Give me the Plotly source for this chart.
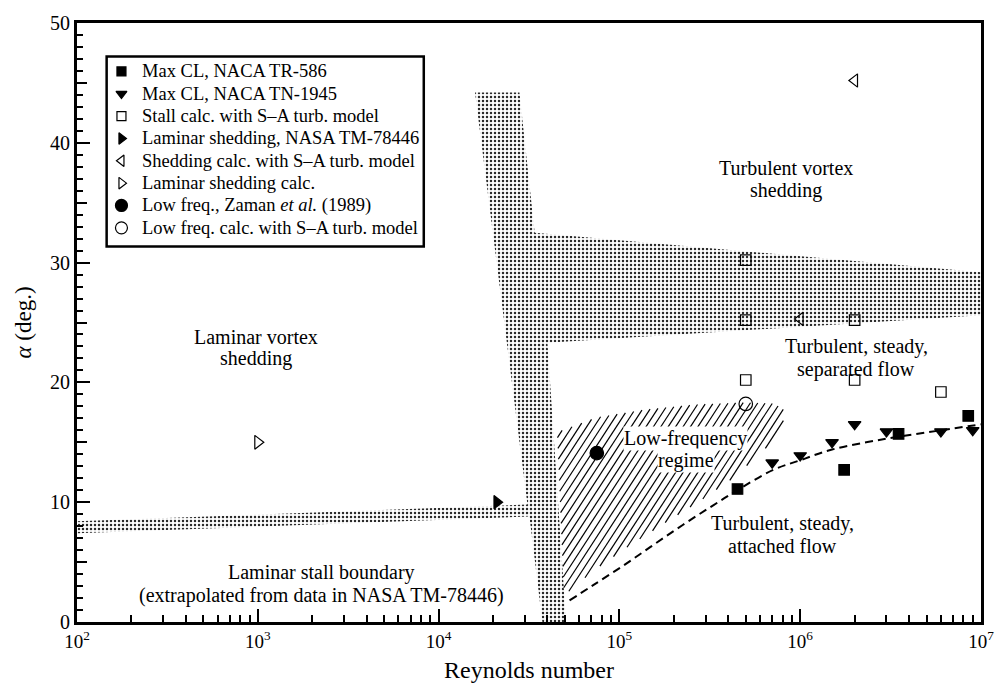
import numpy as np
import plotly.graph_objects as go

# ---------------- data ----------------
# Max CL, NACA TR-586
tr586_re = [4.5e5, 1.75e6, 3.5e6, 8.5e6]
tr586_alpha = [11.1, 12.7, 15.7, 17.2]

# Max CL, NACA TN-1945
tn1945_re = [7.0e5, 1.0e6, 1.5e6, 2.0e6, 3.0e6, 6.0e6, 9.0e6]
tn1945_alpha = [13.3, 13.9, 15.0, 16.5, 15.9, 15.9, 16.0]

# Stall calc. with S-A turbulence model
sa_stall_re = [5e5, 5e5, 5e5, 2e6, 2e6, 6e6]
sa_stall_alpha = [30.2, 25.2, 20.2, 25.2, 20.2, 19.2]

# Laminar shedding, NASA TM-78446
tm78446_re = [2.1e4]
tm78446_alpha = [10.0]

# Shedding calc. with S-A turbulence model
sa_shed_re = [1e6, 2e6]
sa_shed_alpha = [25.3, 45.2]

# Laminar shedding calc.
lam_shed_re = [1e3]
lam_shed_alpha = [15.0]

# Low frequency, Zaman et al. (1989)
zaman_re = [7.5e4]
zaman_alpha = [14.1]

# Low frequency calc. with S-A turbulence model
lowfreq_re = [5e5]
lowfreq_alpha = [18.2]

# Attached-flow boundary (dashed curve)
bound_re = [5.3e4, 7.2e4, 1.05e5, 1.53e5, 2.24e5, 3.27e5, 4.6e5, 7.1e5, 1.0e6, 1.5e6, 3.0e6, 6.0e6, 1.0e7]
bound_alpha = [1.8, 3.1, 4.7, 6.4, 8.1, 9.7, 11.1, 12.7, 13.5, 14.4, 15.3, 16.0, 16.5]

# Stippled transition bands (one outline: vertical band, upper band, laminar stall band)
band_re = [1.59e4, 2.8e4, 3.4e4, 1e7, 1e7, 4.0e4, 5.07e4, 3.75e4, 3.18e4, 1e2, 1e2, 3.1e4]
band_alpha = [44.2, 44.2, 32.5, 29.2, 25.6, 23.3, 0.0, 0.0, 8.8, 7.4, 8.4, 9.8]

# Low-frequency regime outline
lowreg_re = [4.53e4, 7.5e4, 1.41e5, 2.64e5, 4.94e5, 7.2e5, 8.07e5, 8.18e5, 7.59e5,
             5.89e5, 4.2e5, 2.77e5, 1.74e5, 1.09e5, 7.2e4, 4.94e4]
lowreg_alpha = [15.84, 17.08, 17.74, 18.15, 18.32, 18.23, 17.74, 17.08, 15.59,
                13.94, 11.96, 10.07, 8.17, 6.19, 4.29, 2.23]

x_tickvals = [1e2, 1e3, 1e4, 1e5, 1e6, 1e7]
x_ticktext = ["10<sup>2</sup>", "10<sup>3</sup>", "10<sup>4</sup>",
              "10<sup>5</sup>", "10<sup>6</sup>", "10<sup>7</sup>"]
y_tickvals = [0, 10, 20, 30, 40, 50]

# region labels: (text, log10 Re of centre, alpha)
region_labels = [
    ("Turbulent vortex", 5.92, 37.9), ("shedding", 5.92, 36.0),
    ("Laminar vortex", 2.99, 23.8), ("shedding", 2.99, 22.0),
    ("Turbulent, steady,", 6.31, 23.0), ("separated flow", 6.31, 21.1),
    ("Turbulent, steady,", 5.90, 8.25), ("attached flow", 5.90, 6.35),
    ("Laminar stall boundary", 3.355, 4.13),
    ("(extrapolated from data in NASA TM-78446)", 3.355, 2.23),
]
boxed_labels = [("Low-frequency", 5.366, 15.3), ("regime", 5.366, 13.5)]

# ---------------- layout geometry ----------------
W, H = 1006, 698
ML, MR, MT, MB = 77, 14, 16, 76
LX0, LX1 = 2.0, 7.0
Y0, Y1 = 0.0, 50.0
PW, PH = W - ML - MR, H - MT - MB

FONT = "Liberation Serif"


def to_px(re, a):
    px = ML + (np.log10(re) - LX0) / (LX1 - LX0) * PW
    py = MT + (Y1 - a) / (Y1 - Y0) * PH
    return px, py


def from_px(px, py):
    lx = LX0 + (px - ML) / PW * (LX1 - LX0)
    a = Y1 - (py - MT) / PH * (Y1 - Y0)
    return 10 ** lx, a


def hatch_lines(re_list, a_list, angle_deg=57.0, hspacing=7.5):
    """Parallel hatch segments clipped to a polygon, built in screen space."""
    pts = [to_px(r, a) for r, a in zip(re_list, a_list)]
    th = np.radians(angle_deg)
    d = np.array([np.cos(th), -np.sin(th)])
    n = np.array([np.sin(th), np.cos(th)])
    proj = [n @ np.array(p) for p in pts]
    step = hspacing * np.sin(th)
    xs, ys = [], []
    c = min(proj) + step / 2
    while c < max(proj):
        hits = []
        for i in range(len(pts)):
            p1 = np.array(pts[i])
            p2 = np.array(pts[(i + 1) % len(pts)])
            s1, s2 = n @ p1 - c, n @ p2 - c
            if s1 * s2 < 0:
                t = s1 / (s1 - s2)
                hits.append(p1 + t * (p2 - p1))
        hits.sort(key=lambda q: d @ q)
        for k in range(0, len(hits) - 1, 2):
            for q in (hits[k], hits[k + 1]):
                r, a = from_px(q[0], q[1])
                xs.append(r)
                ys.append(a)
            xs.append(None)
            ys.append(None)
        c += step
    return xs, ys


fig = go.Figure()

# stippled bands
fig.add_trace(go.Scatter(
    x=band_re, y=band_alpha, mode="lines", fill="toself",
    line=dict(width=0, color="rgba(0,0,0,0)"),
    fillcolor="rgba(0,0,0,0)",
    fillpattern=dict(shape=".", fgcolor="#2a2a2a", bgcolor="rgba(255,255,255,0)",
                     size=4, solidity=0.3, fillmode="replace"),
    showlegend=False, hoverinfo="skip"))

# hatched low-frequency regime
hx, hy = hatch_lines(lowreg_re, lowreg_alpha)
fig.add_trace(go.Scatter(x=hx, y=hy, mode="lines", line=dict(color="black", width=1.2),
                         showlegend=False, hoverinfo="skip"))

# dashed attached-flow boundary
fig.add_trace(go.Scatter(x=bound_re, y=bound_alpha, mode="lines", line_shape="spline",
                         line=dict(color="black", width=2, dash="8px,5px"),
                         showlegend=False, hoverinfo="skip"))

mk_line = dict(color="black", width=1.2)
# name, x, y, symbol, plot size, key size
series = [
    ("Max CL, NACA TR-586", tr586_re, tr586_alpha, "square", 10.5, 9),
    ("Max CL, NACA TN-1945", tn1945_re, tn1945_alpha, "triangle-down", 11, 9.5),
    ("Stall calc. with S–A turb. model", sa_stall_re, sa_stall_alpha, "square-open", 10.5, 9),
    ("Laminar shedding, NASA TM-78446", tm78446_re, tm78446_alpha, "triangle-right", 11.5, 10),
    ("Shedding calc. with S–A turb. model", sa_shed_re, sa_shed_alpha, "triangle-left-open", 11.5, 10),
    ("Laminar shedding calc.", lam_shed_re, lam_shed_alpha, "triangle-right-open", 12, 10),
    ("Low freq., Zaman <i>et al.</i> (1989)", zaman_re, zaman_alpha, "circle", 13.5, 12),
    ("Low freq. calc. with S–A turb. model", lowfreq_re, lowfreq_alpha, "circle-open", 13.5, 12),
]
for name, xs, ys, sym, sz, _ in series:
    fig.add_trace(go.Scatter(
        x=xs, y=ys, mode="markers", name=name, showlegend=False,
        marker=dict(symbol=sym, size=sz, color="black", line=mk_line)))

# key box (drawn by hand so row spacing stays compact)
KEY_L, KEY_T, KEY_R, KEY_B = 107, 50, 428, 242
KEY_ROW0, KEY_DY, KEY_MX, KEY_TX = 65, 22.6, 122, 141


def paper_x(px):
    return (px - ML) / PW


def paper_y(py):
    return (H - MB - py) / PH


fig.add_shape(type="rect", xref="paper", yref="paper",
              x0=paper_x(KEY_L), x1=paper_x(KEY_R), y0=paper_y(KEY_B), y1=paper_y(KEY_T),
              line=dict(color="black", width=2.5), fillcolor="white", layer="below")
for i, (name, _, _, sym, _, ksz) in enumerate(series):
    ry = KEY_ROW0 + i * KEY_DY
    kx, ky = from_px(KEY_MX, ry)
    fig.add_trace(go.Scatter(x=[kx], y=[ky], mode="markers", showlegend=False,
                             hoverinfo="skip",
                             marker=dict(symbol=sym, size=ksz, color="black", line=mk_line)))
    fig.add_annotation(xref="paper", yref="paper", x=paper_x(KEY_TX), y=paper_y(ry),
                       xanchor="left", yanchor="middle", text=name, showarrow=False,
                       font=dict(family=FONT, size=18.5, color="black"))

txt = dict(family=FONT, size=20, color="black")
for t, lx, a in region_labels:
    fig.add_annotation(x=lx, y=a, text=t, showarrow=False, font=txt,
                       xanchor="center", yanchor="middle")
for t, lx, a in boxed_labels:
    fig.add_annotation(x=lx, y=a, text=t, showarrow=False, font=txt,
                       xanchor="center", yanchor="middle", bgcolor="white", borderpad=0)

fig.update_layout(
    width=W, height=H,
    margin=dict(l=ML, r=MR, t=MT, b=MB),
    paper_bgcolor="white", plot_bgcolor="white",
    font=dict(family=FONT, color="black"),
    showlegend=False,
    xaxis=dict(type="log", range=[LX0, LX1], tickmode="array", tickvals=x_tickvals,
               ticktext=x_ticktext, ticks="inside", ticklen=13, tickwidth=2,
               tickcolor="black", showgrid=False, zeroline=False,
               showline=True, linewidth=3, linecolor="black", mirror=True,
               tickfont=dict(family=FONT, size=19, color="black"),
               minor=dict(ticks="inside", ticklen=7, tickwidth=1.5, tickcolor="black",
                          dtick="D1", showgrid=False),
               title=dict(text="Reynolds number", font=dict(family=FONT, size=24), standoff=11)),
    yaxis=dict(range=[Y0, Y1], tickmode="array", tickvals=y_tickvals,
               ticks="inside", ticklen=13, tickwidth=2, tickcolor="black",
               showgrid=False, zeroline=False,
               showline=True, linewidth=3, linecolor="black", mirror=True,
               tickfont=dict(family=FONT, size=20, color="black"),
               minor=dict(ticks="inside", ticklen=6, tickwidth=1.5, tickcolor="black",
                          dtick=1, showgrid=False),
               title=dict(text="<i>α</i> (deg.)", font=dict(family=FONT, size=23), standoff=12)),
    yaxis2=dict(range=[Y0, Y1], overlaying="y", side="left", tickmode="array",
                tickvals=[5, 15, 25, 35, 45], ticks="inside", ticklen=10, tickwidth=2,
                tickcolor="black", showticklabels=False, showgrid=False,
                zeroline=False, showline=False),
)
# empty trace so the medium-tick axis is drawn
fig.add_trace(go.Scatter(x=[None], y=[None], yaxis="y2", showlegend=False, hoverinfo="skip"))

fig.write_html("out.html")
